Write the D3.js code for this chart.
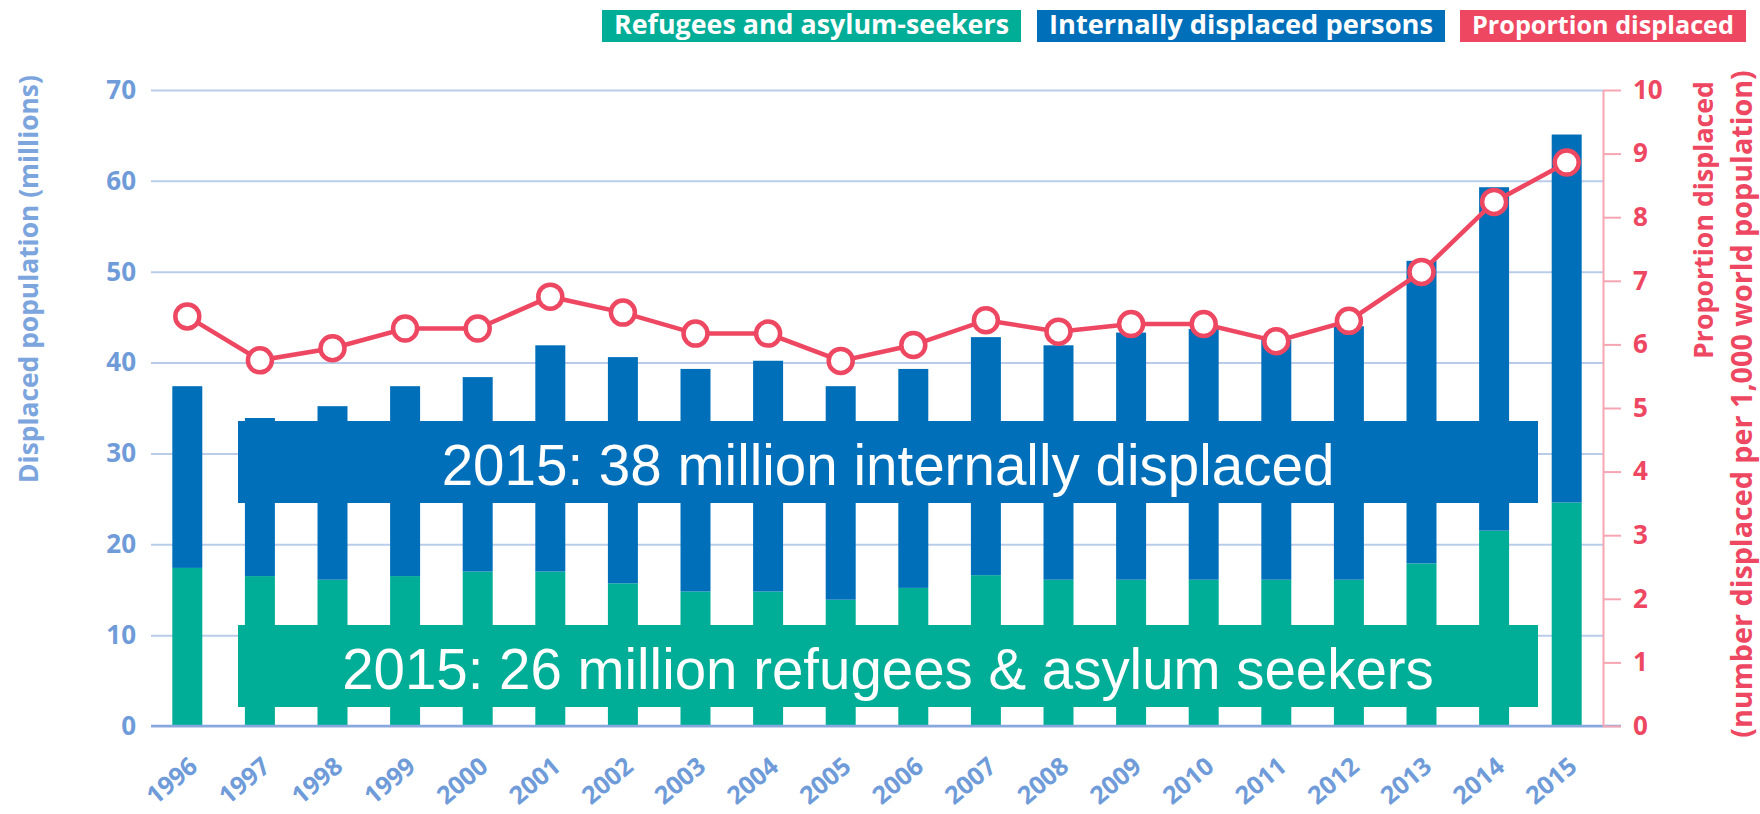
<!DOCTYPE html>
<html>
<head>
<meta charset="utf-8">
<script src="https://cdn.jsdelivr.net/npm/d3@7"></script>
<style>
	body { margin: 0; background: #fff; }
	.container svg { display: block; }
</style>
</head>
<body>
<div class="container"></div>
<script>
// data
var years = ["1996", "1997", "1998", "1999", "2000", "2001", "2002", "2003", "2004", "2005",
	"2006", "2007", "2008", "2009", "2010", "2011", "2012", "2013", "2014", "2015"];

// millions of people
var refugees = [17.4, 16.5, 16.1, 16.5, 17.0, 17.0, 15.7, 14.8, 14.8, 13.9,
	15.2, 16.6, 16.1, 16.1, 16.1, 16.1, 16.1, 17.9, 21.5, 24.6];
var idps = [20.0, 17.4, 19.1, 20.9, 21.4, 24.9, 24.9, 24.5, 25.4, 23.5,
	24.1, 26.2, 25.8, 27.2, 27.6, 26.4, 27.9, 33.3, 37.8, 40.5];

// displaced per 1,000 world population
var proportion = [6.44, 5.75, 5.94, 6.25, 6.25, 6.75, 6.5, 6.17, 6.17, 5.74,
	5.99, 6.38, 6.2, 6.32, 6.32, 6.05, 6.37, 7.14, 8.24, 8.86];

var leftTicks = [0, 10, 20, 30, 40, 50, 60, 70];
var rightTicks = [0, 1, 2, 3, 4, 5, 6, 7, 8, 9, 10];

var legendItems = ["Refugees and asylum-seekers", "Internally displaced persons", "Proportion displaced"];
var notes = ["2015: 38 million internally displaced", "2015: 26 million refugees & asylum seekers"];

var green = "#00ad97", blue = "#006fba", red = "#ee4762";
var axisBlue = "#6f9bd9", gridBlue = "#b9cdea";

var width = 1760, height = 814;
var plotLeft = 151, plotRight = 1603, plotTop = 90, plotBottom = 726;

// shrink or grow a text until it is as wide as the target
function fitText (node, target) {
	var size = parseFloat(node.getAttribute("font-size"));
	var w = node.getComputedTextLength();
	node.setAttribute("font-size", (size * target / w).toFixed(2));
}

var svg = d3.select(".container").append("svg")
	.attr("width", width)
	.attr("height", height);

var x = d3.scaleBand()
	.domain(years)
	.range([plotLeft, plotRight])
	.paddingInner(0.587)
	.paddingOuter(0.2935);

var yL = d3.scaleLinear().domain([0, 70]).range([plotBottom, plotTop]);
var yR = d3.scaleLinear().domain([0, 10]).range([plotBottom, plotTop]);

// left axis doubles as the grid
var gLeft = svg.append("g")
	.attr("transform", "translate(" + plotLeft + ",0)")
	.call(d3.axisLeft(yL).tickValues(leftTicks).tickSize(-(plotRight - plotLeft)).tickPadding(15));
gLeft.select(".domain").remove();
gLeft.selectAll("line").attr("stroke", gridBlue).attr("stroke-width", 2);
gLeft.selectAll("text")
	.attr("fill", axisBlue)
	.attr("font-family", "Open Sans")
	.attr("font-weight", 700)
	.attr("font-size", 26);

// stacked bars
var rows = years.map(function (y, i) {
	return {year: y, refugees: refugees[i], idps: idps[i]};
});
var stacked = d3.stack().keys(["refugees", "idps"])(rows);
var colors = {refugees: green, idps: blue};

svg.selectAll(".layer")
	.data(stacked)
	.enter()
	.append("g")
		.attr("fill", function (d) { return colors[d.key]; })
	.selectAll("rect")
	.data(function (d) { return d; })
	.enter()
	.append("rect")
		.attr("x", function (d) { return x(d.data.year); })
		.attr("width", x.bandwidth())
		.attr("y", function (d) { return yL(d[1]); })
		.attr("height", function (d) { return yL(d[0]) - yL(d[1]); });

// baseline runs a bit past the right axis
svg.append("line")
	.attr("x1", plotLeft).attr("x2", plotRight + 18)
	.attr("y1", yL(0)).attr("y2", yL(0))
	.attr("stroke", "#86a8dc")
	.attr("stroke-width", 2.5);

// right axis
var gRight = svg.append("g")
	.attr("transform", "translate(" + plotRight + ",0)")
	.call(d3.axisRight(yR).tickValues(rightTicks).tickSize(18).tickSizeOuter(0).tickPadding(12));
gRight.select(".domain").attr("stroke", "#f6a5b2").attr("stroke-width", 2);
gRight.selectAll("line").attr("stroke", "#f6a5b2").attr("stroke-width", 2);
gRight.selectAll("text")
	.attr("fill", red)
	.attr("font-family", "Open Sans")
	.attr("font-weight", 700)
	.attr("font-size", 26);

// bottom axis, rotated years
var gBottom = svg.append("g")
	.attr("transform", "translate(0," + plotBottom + ")")
	.call(d3.axisBottom(x).tickSize(0).tickPadding(0));
gBottom.select(".domain").remove();
gBottom.selectAll("text")
	.attr("fill", axisBlue)
	.attr("font-family", "Open Sans")
	.attr("font-weight", 700)
	.attr("font-size", 25)
	.attr("text-anchor", "end")
	.attr("dy", null)
	.attr("y", null)
	.attr("transform", "translate(12,43) rotate(-40)");

// note boxes over the bars
var boxes = [
	{text: notes[0], color: blue, y0: 421, y1: 503, w: 893},
	{text: notes[1], color: green, y0: 625, y1: 707, w: 1092}
];
boxes.forEach(function (b) {
	svg.append("rect")
		.attr("x", 238).attr("width", 1300)
		.attr("y", b.y0).attr("height", b.y1 - b.y0)
		.attr("fill", b.color);
	var t = svg.append("text")
		.attr("x", 888).attr("y", b.y0 + 64)
		.attr("text-anchor", "middle")
		.attr("fill", "#fff")
		.attr("font-family", "Liberation Sans")
		.attr("font-size", 57)
		.text(b.text);
	fitText(t.node(), b.w);
});

// proportion line with hollow markers
var points = years.map(function (y, i) { return {year: y, p: proportion[i]}; });
var line = d3.line()
	.x(function (d) { return x(d.year) + x.bandwidth() / 2; })
	.y(function (d) { return yR(d.p); });

svg.append("path")
	.datum(points)
	.attr("d", line)
	.attr("fill", "none")
	.attr("stroke", red)
	.attr("stroke-width", 4.5);

svg.selectAll(".dot")
	.data(points)
	.enter()
	.append("circle")
		.attr("cx", function (d) { return x(d.year) + x.bandwidth() / 2; })
		.attr("cy", function (d) { return yR(d.p); })
		.attr("r", 12)
		.attr("fill", "#fff")
		.attr("stroke", red)
		.attr("stroke-width", 4.5);

// axis titles
var tL = svg.append("text")
	.attr("transform", "translate(38,279) rotate(-90)")
	.attr("text-anchor", "middle")
	.attr("fill", "#7ca5de")
	.attr("font-family", "Open Sans")
	.attr("font-weight", 700)
	.attr("font-size", 22)
	.text("Displaced population (millions)");
fitText(tL.node(), 408);

var tR1 = svg.append("text")
	.attr("transform", "translate(1713,220) rotate(-90)")
	.attr("text-anchor", "middle")
	.attr("fill", red)
	.attr("font-family", "Open Sans")
	.attr("font-weight", 700)
	.attr("font-size", 22)
	.text("Proportion displaced");
fitText(tR1.node(), 278);

var tR2 = svg.append("text")
	.attr("transform", "translate(1752,404) rotate(-90)")
	.attr("text-anchor", "middle")
	.attr("fill", red)
	.attr("font-family", "Open Sans")
	.attr("font-weight", 700)
	.attr("font-size", 22)
	.text("(number displaced per 1,000 world population)");
fitText(tR2.node(), 668);

// legend chips along the top
var legend = [
	{text: legendItems[0], color: green, x0: 602, x1: 1021},
	{text: legendItems[1], color: blue, x0: 1037, x1: 1445},
	{text: legendItems[2], color: red, x0: 1460, x1: 1746}
];
legend.forEach(function (l) {
	svg.append("rect")
		.attr("x", l.x0).attr("width", l.x1 - l.x0)
		.attr("y", 10).attr("height", 32)
		.attr("fill", l.color);
	var t = svg.append("text")
		.attr("x", (l.x0 + l.x1) / 2).attr("y", 34)
		.attr("text-anchor", "middle")
		.attr("fill", "#fff")
		.attr("font-family", "Open Sans")
		.attr("font-weight", 700)
		.attr("font-size", 22)
		.text(l.text);
	fitText(t.node(), l.x1 - l.x0 - 24);
});
</script>
</body>
</html>
